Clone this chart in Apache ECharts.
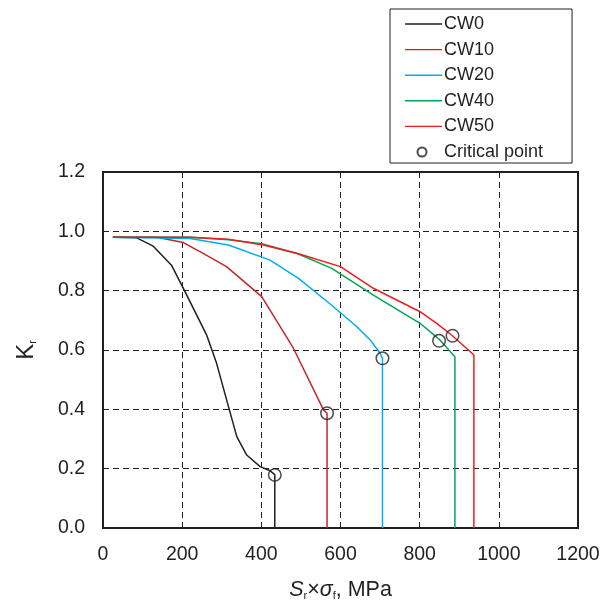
<!DOCTYPE html>
<html><head><meta charset="utf-8">
<script src="https://cdn.jsdelivr.net/npm/echarts@6/dist/echarts.min.js"></script>
<style>html,body{margin:0;padding:0;background:#fff}#c{width:613px;height:603px}</style>
</head><body><div id="c"></div>
<script>
const seriesNames = ['CW0','CW10','CW20','CW40','CW50'];
const seriesColors = ['#231f20','#c1272d','#00aeef','#00a651','#ed1c24'];
const cw0 = [[25,0.98],[85,0.978],[127,0.95],[173,0.886],[203,0.808],[262,0.65],[287,0.555],[317,0.409],[338,0.308],[363,0.246],[397,0.207],[422,0.193],[434,0.18],[434,0]];
const cw10 = [[25,0.98],[136,0.98],[203,0.962],[253,0.926],[312,0.881],[401,0.78],[481,0.606],[557,0.398],[566,0.387],[566,0]];
const cw20 = [[25,0.98],[220,0.976],[317,0.954],[422,0.903],[493,0.842],[574,0.755],[640,0.68],[675,0.634],[700,0.589],[706,0.572],[706,0]];
const cw40 = [[25,0.98],[220,0.98],[317,0.972],[401,0.958],[489,0.926],[578,0.875],[683,0.785],[801,0.69],[851,0.634],[889,0.577],[889,0]];
const cw50 = [[25,0.98],[220,0.98],[317,0.973],[405,0.954],[498,0.923],[600,0.881],[683,0.808],[801,0.729],[843,0.69],[883,0.648],[937,0.583],[937,0]];
const criticalX = [434,566,706,849,883];
const criticalY = [0.179,0.387,0.572,0.631,0.648];
const xTicks = {min:0,max:1200,interval:200};
const yTicks = {min:0,max:1.2,interval:0.2};

const lineData = [cw0,cw10,cw20,cw40,cw50];
const series = lineData.map((d,i)=>({
  name: seriesNames[i], type:'line', data:d, symbol:'none',
  lineStyle:{color:seriesColors[i], width:1.5}, itemStyle:{color:seriesColors[i]},
  z: 2
}));
series.push({
  name:'Critical point', type:'scatter', symbol:'circle', symbolSize:12.5,
  data: criticalX.map((x,i)=>[x,criticalY[i]]),
  itemStyle:{color:'rgba(255,255,255,0)', borderColor:'#231f20', borderWidth:1.5}, z:5
});
const chart = echarts.init(document.getElementById('c'));
const font = 'Liberation Sans, Arial, sans-serif';
chart.setOption({
  animation:false,
  backgroundColor:'#fff',
  grid:{left:103, right:35, top:172, bottom:75, show:true, borderColor:'#231f20', borderWidth:2, backgroundColor:'transparent', containLabel:false, outerBoundsMode:'none'},
  legend:{
    orient:'vertical', left:390, top:9,
    padding:[6,29,2,14], itemGap:7.6, itemWidth:37, itemHeight:14,
    borderColor:'#231f20', borderWidth:1,
    textStyle:{fontFamily:font, fontSize:18, lineHeight:18, color:'#231f20', padding:[0,0,0,-3]},
    data:[...seriesNames.map(n=>({name:n, icon:'path://M0,6.3 L37,6.3 L37,7.7 L0,7.7 Z M0,0 M37,14'})),
          {name:'Critical point', icon:'path://M0,0 M37,14 M21.5,7 A4.5,4.5 0 1 1 12.5,7 A4.5,4.5 0 1 1 21.5,7 Z'}]
  },
  xAxis:{
    type:'value', min:xTicks.min, max:xTicks.max, interval:xTicks.interval,
    axisLine:{show:true, lineStyle:{color:'#231f20', width:2}},
    axisTick:{show:false},
    axisLabel:{fontFamily:font, fontSize:19.5, color:'#231f20', margin:17, formatter:v=>String(v)},
    splitLine:{show:true, lineStyle:{color:'#231f20', type:[6,4], width:1}},
    name:'{i|S}{sub|r}{n|×}{i|σ}{sub|f}{n|, MPa}', nameLocation:'middle', nameGap:49,
    nameTextStyle:{fontFamily:font, fontSize:21.5, color:'#231f20',
      rich:{i:{fontStyle:'italic', fontSize:21.5, fontFamily:font, color:'#231f20', verticalAlign:'bottom', lineHeight:24},
            sub:{fontSize:11, fontFamily:font, color:'#231f20', verticalAlign:'bottom', lineHeight:14},
            n:{fontSize:21.5, fontFamily:font, color:'#231f20', verticalAlign:'bottom', lineHeight:24}}}
  },
  yAxis:{
    type:'value', min:yTicks.min, max:yTicks.max, interval:yTicks.interval,
    axisLine:{show:true, lineStyle:{color:'#231f20', width:2}},
    axisTick:{show:false},
    axisLabel:{fontFamily:font, fontSize:19.5, color:'#231f20', margin:18, formatter:v=>v.toFixed(1)},
    splitLine:{show:true, lineStyle:{color:'#231f20', type:[6,4], width:1}},
    name:'{n|K}{sub|r}', nameLocation:'middle', nameGap:65, nameRotate:90,
    nameTextStyle:{fontFamily:font, fontSize:24, color:'#231f20',
      rich:{n:{fontSize:24, fontFamily:font, color:'#231f20', verticalAlign:'bottom', lineHeight:26},
            sub:{fontSize:11, fontFamily:font, color:'#231f20', verticalAlign:'bottom', lineHeight:16}}}
  },
  series: series
});
</script></body></html>
